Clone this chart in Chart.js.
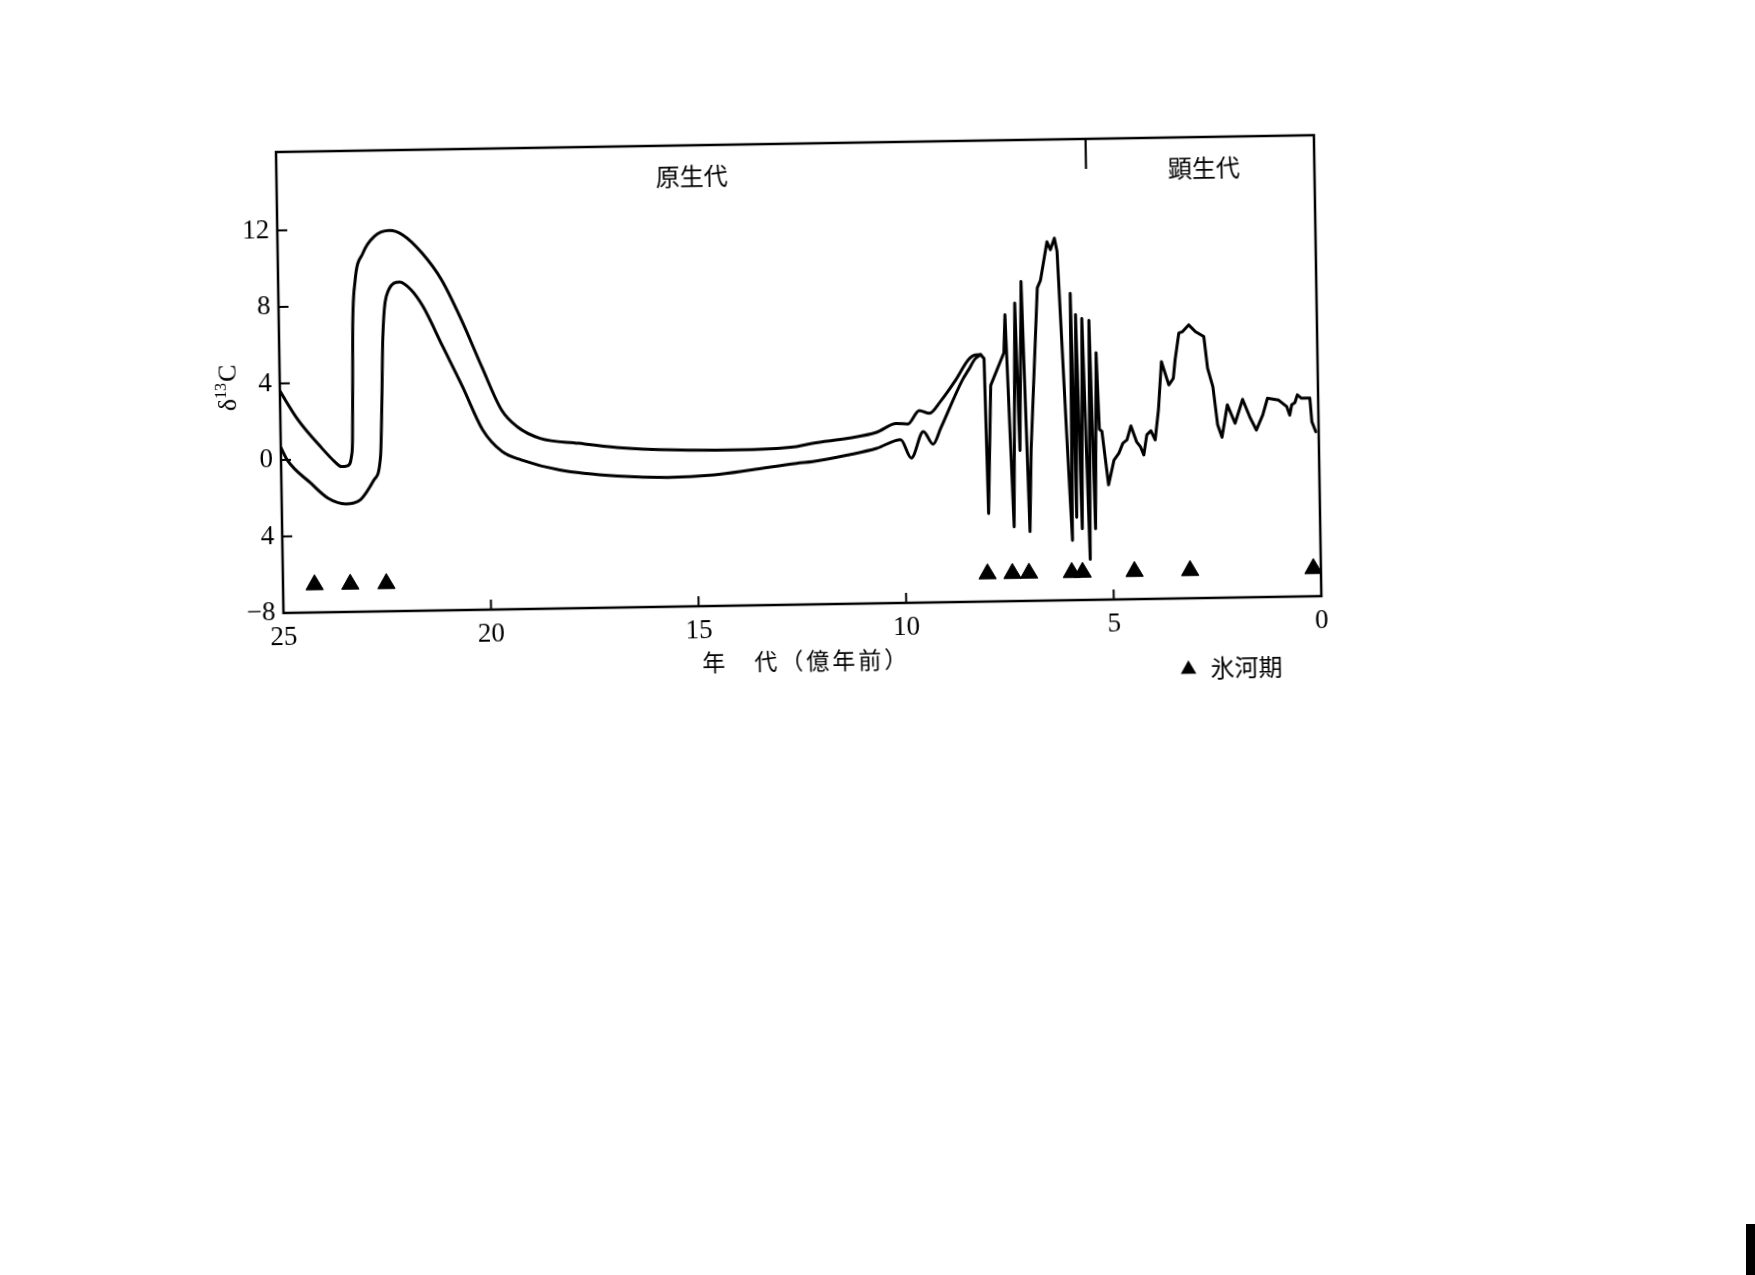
<!DOCTYPE html>
<html><head><meta charset="utf-8">
<script src="https://cdn.jsdelivr.net/npm/chart.js@4.4.1/dist/chart.umd.min.js"></script>
<style>
html,body{margin:0;padding:0;background:#fff;width:1755px;height:1275px;overflow:hidden}
#wrap{position:absolute;left:0;top:0;width:1755px;height:1275px;transform-origin:281px 460px;transform:rotate(-0.93deg)}
canvas{display:block}
#bar{position:absolute;left:1746px;top:1224px;width:9px;height:51px;background:#000}
</style></head><body>
<div id="wrap"><canvas id="c" width="1755" height="1275"></canvas></div>
<div id="bar"></div>
<script>
// ---- axis ticks ----
const xTicks = [25, 20, 15, 10, 5, 0];
const yTicks = [12, 8, 4, 0, -4, -8];
const yTickLabels = ['12', '8', '4', '0', '4', '−8'];

// ---- band: upper edge (age in 億年前, δ13C) ----
const upperAge = [25.0, 24.57, 24.01, 23.7, 23.55, 23.4, 23.3, 23.27, 23.24, 23.22, 23.15, 22.95, 22.67, 22.3, 21.98, 21.52, 21.06, 20.6, 20.13, 19.67, 19.3, 18.75, 17.83, 16.9, 15.52, 14.13, 12.58, 12.2, 11.34, 10.65, 10.17, 9.89, 9.61, 9.37, 9.1, 8.72, 8.41, 8.24, 8.11];
const upperVal = [3.6, 2.07, 0.58, -0.15, -0.40, -0.36, 0.14, 0.94, 4.44, 6.94, 9.23, 10.73, 11.6, 11.9, 11.66, 10.69, 9.27, 7.17, 4.71, 2.43, 1.54, 0.91, 0.62, 0.37, 0.19, 0.14, 0.26, 0.42, 0.65, 0.94, 1.38, 1.35, 2.04, 1.89, 2.49, 3.61, 4.65, 4.9, 4.91];

// ---- band: lower edge ----
const lowerAge = [25.0, 24.85, 24.29, 23.88, 23.46, 23.09, 22.77, 22.6, 22.55, 22.5, 22.36, 22.07, 21.8, 21.52, 21.06, 20.6, 20.13, 19.67, 19.21, 18.29, 16.9, 15.7, 14.59, 13.67, 12.58, 12.2, 11.34, 10.65, 10.07, 9.82, 9.52, 9.29, 9.1, 8.56, 8.41, 8.24, 8.11];
const lowerVal = [0.65, -0.01, -1.24, -2.04, -2.35, -2.12, -1.13, 0.12, 2.81, 6.31, 8.71, 9.2, 8.78, 7.9, 5.79, 3.68, 1.4, 0.25, -0.2, -0.76, -1.13, -1.24, -1.15, -0.92, -0.61, -0.54, -0.22, 0.1, 0.54, -0.43, 0.94, 0.27, 1.1, 3.6, 4.12, 4.71, 4.91];

// ---- single curve, late Proterozoic to present ----
const recentAge = [8.11, 8.03, 7.98, 7.88, 7.55, 7.51, 7.37, 7.27, 7.2, 7.11, 6.99, 6.93, 6.72, 6.64, 6.47, 6.39, 6.29, 6.23, 6.07, 5.97, 5.93, 5.86, 5.81, 5.73, 5.66, 5.55, 5.49, 5.41, 5.33, 5.28, 5.22, 5.08, 4.94, 4.82, 4.72, 4.62, 4.52, 4.39, 4.30, 4.22, 4.14, 4.04, 3.94, 3.85, 3.76, 3.59, 3.48, 3.43, 3.33, 3.24, 3.09, 2.93, 2.73, 2.65, 2.53, 2.43, 2.33, 2.19, 2.01, 1.82, 1.64, 1.50, 1.34, 1.22, 0.96, 0.76, 0.69, 0.64, 0.56, 0.50, 0.40, 0.20, 0.16, 0.07];
const recentVal = [4.91, 4.7, -3.4, 3.3, 4.99, 6.98, -4.12, 7.58, -0.13, 8.7, -4.38, -0.04, 8.36, 8.75, 10.75, 10.34, 10.94, 10.24, 0.73, -4.87, 8.03, -3.67, 6.92, -4.28, 6.72, -5.88, 6.61, -4.29, 4.91, 0.91, 0.8, -2.0, -0.71, -0.36, 0.16, 0.33, 1.06, 0.23, -0.03, -0.47, 0.58, 0.79, 0.31, 1.88, 4.39, 3.17, 3.51, 4.47, 5.87, 5.94, 6.29, 5.93, 5.67, 4.0, 3.04, 1.04, 0.39, 2.08, 1.11, 2.35, 1.36, 0.74, 1.52, 2.39, 2.29, 1.94, 1.49, 2.02, 2.14, 2.54, 2.36, 2.36, 1.12, 0.6];

// ---- glacial periods (氷河期) ----
const glacialAge = [24.24, 23.38, 22.51, 8.03, 7.43, 7.03, 6.0, 5.74, 4.49, 3.15, 0.18];
const glacialVal = [-6.55, -6.55, -6.55, -6.55, -6.55, -6.55, -6.55, -6.55, -6.55, -6.55, -6.55];

// ---- annotations ----
const eraNames = ['原生代', '顕生代'];
const eraLabelAge = [15.0, 2.66];
const eraBoundary = 5.5;
const xTitle = '年　代（億年前）';
const legendText = '氷河期';

const pts = (a, v) => a.map((x, i) => ({ x: x, y: v[i] }));

const serif = '"Liberation Serif", "DejaVu Serif", serif';
const cjk = '"Noto Sans CJK JP", "Noto Sans CJK SC", sans-serif';

function seg(ctx, x1, y1, x2, y2) { ctx.beginPath(); ctx.moveTo(x1, y1); ctx.lineTo(x2, y2); ctx.stroke(); }

const framePlugin = {
  id: 'frame',
  afterDraw(chart) {
    const { ctx, chartArea: a, scales: { x, y } } = chart;
    ctx.save();
    ctx.strokeStyle = '#000'; ctx.fillStyle = '#000';
    ctx.lineWidth = 2.5;
    ctx.strokeRect(a.left, a.top, a.right - a.left, a.bottom - a.top);
    ctx.lineWidth = 2;
    yTicks.forEach(v => { if (v === -8) return; const py = y.getPixelForValue(v); seg(ctx, a.left, py, a.left + 10, py); });
    xTicks.forEach(v => { if (v === 25 || v === 0) return; const px = x.getPixelForValue(v); seg(ctx, px, a.bottom, px, a.bottom - 10); });
    // era boundary
    const bx = x.getPixelForValue(eraBoundary);
    ctx.lineWidth = 2.2;
    seg(ctx, bx, a.top, bx, a.top + 30);
    // era names
    ctx.font = '24px ' + cjk; ctx.textAlign = 'center'; ctx.textBaseline = 'middle';
    eraNames.forEach((n, i) => ctx.fillText(n, x.getPixelForValue(eraLabelAge[i]), a.top + 31));
    // x title
    ctx.font = '23px ' + cjk;
    ctx.letterSpacing = '3px';
    ctx.fillText(xTitle, 803, 669);
    ctx.letterSpacing = '0px';
    // legend
    const lx = 1185, ly = 684, r = 9;
    ctx.beginPath();
    ctx.moveTo(lx, ly - r); ctx.lineTo(lx + r * 0.866, ly + r / 2); ctx.lineTo(lx - r * 0.866, ly + r / 2); ctx.closePath(); ctx.fill();
    ctx.textAlign = 'left'; ctx.font = '24px ' + cjk;
    ctx.fillText(legendText, 1207, 683);
    // y title δ13C (rotated)
    ctx.translate(228, 387); ctx.rotate(-Math.PI / 2);
    ctx.textAlign = 'left'; ctx.textBaseline = 'alphabetic';
    ctx.font = '26px ' + serif; const wD = ctx.measureText('δ').width; const wC = ctx.measureText('C').width;
    ctx.font = '16px ' + serif; const w13 = ctx.measureText('13').width;
    let sx = -(wD + w13 + wC + 1) / 2;
    ctx.font = '26px ' + serif; ctx.fillText('δ', sx, 9); sx += wD;
    ctx.font = '16px ' + serif; ctx.fillText('13', sx, -1); sx += w13 + 1;
    ctx.font = '26px ' + serif; ctx.fillText('C', sx, 9);
    ctx.restore();
  }
};

const lineStyle = { borderColor: '#000', borderWidth: 3, pointRadius: 0, fill: false, borderJoinStyle: 'round', borderCapStyle: 'round' };

new Chart(document.getElementById('c').getContext('2d'), {
  type: 'line',
  data: {
    datasets: [
      Object.assign({ label: 'upper', data: pts(upperAge, upperVal), cubicInterpolationMode: 'monotone' }, lineStyle),
      Object.assign({ label: 'lower', data: pts(lowerAge, lowerVal), cubicInterpolationMode: 'monotone' }, lineStyle),
      Object.assign({ label: 'recent', data: pts(recentAge, recentVal), tension: 0 }, lineStyle),
      { label: '氷河期', data: pts(glacialAge, glacialVal), showLine: false, pointStyle: 'triangle', pointRadius: 10, pointBackgroundColor: '#000', pointBorderColor: '#000', pointBorderWidth: 1 }
    ]
  },
  options: {
    responsive: false, animation: false, devicePixelRatio: 1,
    layout: { padding: { left: 221, right: 436, top: 152, bottom: 612 } },
    plugins: { legend: { display: false }, tooltip: { enabled: false } },
    scales: {
      x: {
        type: 'linear', reverse: true, min: 0, max: 25,
        grid: { display: false, drawTicks: false }, border: { display: false },
        ticks: { color: '#000', font: { family: serif, size: 27 }, padding: 9, maxRotation: 0, autoSkip: false, callback: v => String(v) },
        afterBuildTicks: s => { s.ticks = xTicks.map(v => ({ value: v })); },
        afterFit: s => { s.height = 50; }
      },
      y: {
        type: 'linear', min: -8, max: 16.1,
        grid: { display: false, drawTicks: false }, border: { display: false },
        ticks: { color: '#000', font: { family: serif, size: 27 }, padding: 8, autoSkip: false, callback: v => { const i = yTicks.indexOf(v); return i >= 0 ? yTickLabels[i] : ''; } },
        afterBuildTicks: s => { s.ticks = yTicks.map(v => ({ value: v })); },
        afterFit: s => { s.width = 60; }
      }
    }
  },
  plugins: [framePlugin]
});
</script>
</body></html>
